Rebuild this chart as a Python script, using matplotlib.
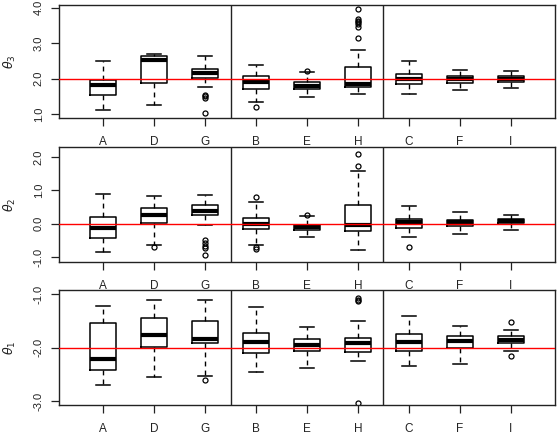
import matplotlib
matplotlib.use("Agg")
import matplotlib.pyplot as plt

plt.rcParams['font.family'] = ['Liberation Sans', 'DejaVu Sans']

labels = ["A", "D", "G", "B", "E", "H", "C", "F", "I"]

# stats per box: (whislo, q1, med, q3, whishi, fliers)
theta3 = [
    (1.11, 1.53, 1.81, 1.97, 2.49, []),
    (1.26, 1.88, 2.52, 2.65, 2.70, []),
    (1.76, 2.03, 2.15, 2.28, 2.63, [1.55, 1.50, 1.46, 1.02]),
    (1.34, 1.71, 1.92, 2.07, 2.38, [1.19]),
    (1.47, 1.71, 1.80, 1.91, 2.19, [2.22]),
    (1.58, 1.77, 1.86, 2.32, 2.80, [3.96, 3.68, 3.64, 3.59, 3.55, 3.47, 3.16]),
    (1.56, 1.84, 2.00, 2.14, 2.50, []),
    (1.67, 1.88, 1.99, 2.08, 2.25, []),
    (1.73, 1.92, 2.00, 2.08, 2.22, []),
]
theta2 = [
    (-0.85, -0.44, -0.14, 0.19, 0.89, []),
    (-0.65, 0.02, 0.27, 0.47, 0.84, [-0.70]),
    (-0.04, 0.26, 0.37, 0.57, 0.87, [-0.50, -0.58, -0.66, -0.74, -0.95]),
    (-0.65, -0.16, 0.00, 0.18, 0.66, [0.79, -0.70, -0.75]),
    (-0.41, -0.18, -0.11, -0.03, 0.24, [0.27]),
    (-0.80, -0.21, -0.03, 0.55, 1.57, [2.10, 1.72]),
    (-0.41, -0.13, 0.04, 0.15, 0.52, [-0.70]),
    (-0.32, -0.06, 0.06, 0.12, 0.34, []),
    (-0.20, 0.02, 0.08, 0.13, 0.26, []),
]
theta1 = [
    (-2.71, -2.42, -2.21, -1.54, -1.22, []),
    (-2.56, -1.99, -1.76, -1.44, -1.11, []),
    (-2.53, -1.92, -1.84, -1.51, -1.11, [-2.61]),
    (-2.46, -2.11, -1.89, -1.72, -1.24, []),
    (-2.39, -2.06, -1.95, -1.84, -1.61, []),
    (-2.25, -2.08, -1.91, -1.82, -1.50, [-1.08, -1.11, -1.13, -3.03]),
    (-2.34, -2.07, -1.90, -1.74, -1.42, []),
    (-2.30, -2.01, -1.88, -1.79, -1.59, []),
    (-2.07, -1.92, -1.86, -1.79, -1.67, [-1.53, -2.16]),
]

panels = [
    dict(data=theta3, true=2.0, ylim=(0.89, 4.08), ticks=[1.0, 2.0, 3.0, 4.0],
         label=r'$\theta_3$', rect=[59, 5, 555, 118]),
    dict(data=theta2, true=0.0, ylim=(-1.15, 2.30), ticks=[-1.0, 0.0, 1.0, 2.0],
         label=r'$\theta_2$', rect=[59, 147, 555, 262]),
    dict(data=theta1, true=-2.0, ylim=(-3.075, -0.925), ticks=[-3.0, -2.0, -1.0],
         label=r'$\theta_1$', rect=[59, 290, 555, 405]),
]

W, H = 558, 436
fig = plt.figure(figsize=(W / 100, H / 100), dpi=100)

for p in panels:
    x0, y0, x1, y1 = p['rect']
    ax = fig.add_axes([x0 / W, 1 - y1 / H, (x1 - x0) / W, (y1 - y0) / H])
    stats = []
    for lab, (lo, q1, med, q3, hi, fl) in zip(labels, p['data']):
        stats.append(dict(label=lab, whislo=lo, q1=q1, med=med, q3=q3, whishi=hi, fliers=fl))
    positions = list(range(1, len(labels) + 1))
    ax.bxp(stats, positions=positions, widths=0.52, capwidths=0.26,
           boxprops=dict(color='black', linewidth=1.1),
           whiskerprops=dict(color='black', linewidth=1.0, linestyle=(0, (3.5, 3))),
           capprops=dict(color='black', linewidth=1.1),
           medianprops=dict(color='black', linewidth=3.0, solid_capstyle='butt'),
           flierprops=dict(marker='o', markersize=3.6, markerfacecolor='none',
                           markeredgecolor='black', markeredgewidth=0.9))
    ax.axhline(p['true'], color='red', linewidth=1.0, zorder=5)
    ax.axvline(3.5, color='#222222', linewidth=1.0)
    ax.axvline(6.5, color='#222222', linewidth=1.0)
    ax.set_xlim(0.137, 9.863)
    ax.set_ylim(*p['ylim'])
    ax.set_yticks(p['ticks'])
    ax.set_yticklabels([f"{t:.1f}" for t in p['ticks']], rotation=90, va='center')
    ax.set_xticks(positions)
    ax.set_xticklabels(labels)
    ax.tick_params(axis='both', direction='out', length=5.5, width=0.9,
                   colors='#222222')
    ax.tick_params(axis='x', pad=7.5, labelsize=8.5)
    ax.tick_params(axis='y', pad=5.5, labelsize=8)
    for s in ax.spines.values():
        s.set_linewidth(1.0)
        s.set_color('#222222')
    fig.text(10 / W, 1 - ((y0 + y1) / 2) / H, p['label'], rotation=90,
             ha='center', va='center', fontsize=9, color='#222222')

fig.savefig('out.png', dpi=100)
